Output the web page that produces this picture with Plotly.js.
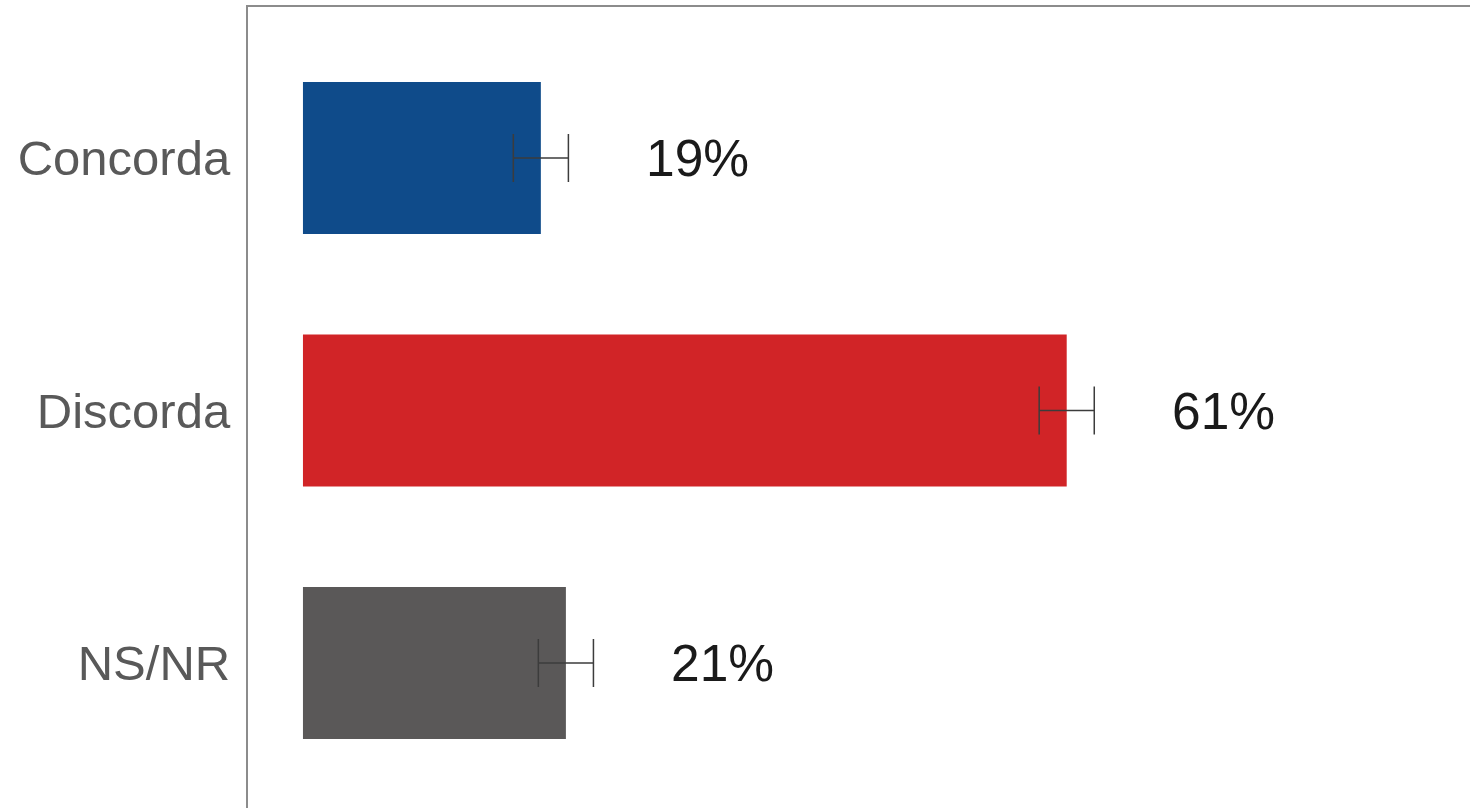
<!DOCTYPE html>
<html>
<head>
<meta charset="utf-8">
<script src="https://cdn.plot.ly/plotly-3.0.1.min.js"></script>
<style>html,body{margin:0;padding:0;background:#fff;}#chart{width:1470px;height:808px;}</style>
</head>
<body>
<div id="chart"></div>
<script>
const categories = ["Concorda", "Discorda", "NS/NR"];
const values = [19, 61, 21];
const errors = [2.2, 2.2, 2.2];
const labels = ["19%", "61%", "21%"];
const colors = ["#0f4b8a", "#d12427", "#5a5858"];

const trace = {
  type: "bar",
  orientation: "h",
  y: categories,
  x: values,
  width: 0.602,
  marker: {color: colors, line: {width: 0}},
  error_x: {type: "data", array: errors, visible: true, color: "#3c3c3c", thickness: 1.5, width: 24},
  hoverinfo: "skip"
};

const annotations = categories.map((c, i) => ({
  x: values[i], y: c, xref: "x", yref: "y",
  text: labels[i], showarrow: false, xanchor: "left", yanchor: "middle",
  xshift: 103,
  font: {family: "Liberation Sans, Arial, sans-serif", size: 51.5, color: "#1a1a1a"}
}));

const layout = {
  width: 1470, height: 808,
  margin: {l: 248, r: 0, t: 7, b: 0, pad: 0},
  paper_bgcolor: "#ffffff", plot_bgcolor: "#ffffff",
  showlegend: false,
  xaxis: {
    range: [-4.39, 93.21], side: "top", showline: true, linecolor: "#8c8c8c", linewidth: 2,
    showgrid: false, zeroline: false, showticklabels: false, ticks: ""
  },
  yaxis: {
    type: "category", range: [2.574, -0.598], showline: true, linecolor: "#8c8c8c", linewidth: 2,
    showgrid: false, zeroline: false, ticks: "", ticklabelstandoff: 6,
    tickfont: {family: "Liberation Sans, Arial, sans-serif", size: 49, color: "#595959"}
  },
  annotations: annotations
};

Plotly.newPlot("chart", [trace], layout, {staticPlot: true, displayModeBar: false});
</script>
</body>
</html>
